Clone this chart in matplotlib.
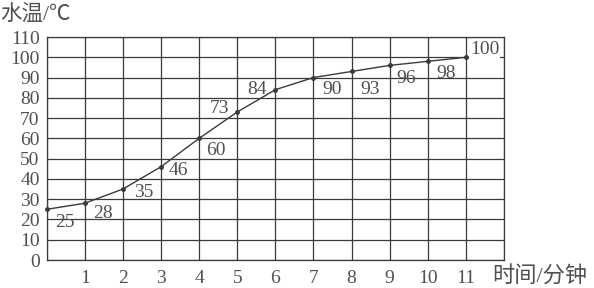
import matplotlib
matplotlib.use("Agg")
import matplotlib.pyplot as plt

# time (minutes) and water temperature
minutes = [0, 1, 2, 3, 4, 5, 6, 7, 8, 9, 10, 11]
temps = [25, 28, 35, 46, 60, 73, 84, 90, 93, 96, 98, 100]
x_ticks = list(range(1, 12))
y_ticks = list(range(0, 111, 10))

# where each value label goes relative to its point (dx, dy in pixels)
label_offsets = [(8, -13), (8, -10), (11, -3), (8, -4), (7, -12), (-8, 4),
                 (-9, 0), (9, -12), (9, -18), (7, -13), (9, -12), (4, 8)]
label_align = ['left', 'left', 'left', 'left', 'left', 'right',
               'right', 'left', 'left', 'left', 'left', 'left']

serif = ['Liberation Serif', 'Noto Sans CJK SC']
ink = '#3a3a3a'
txt = '#505050'

fig = plt.figure(figsize=(5.94, 2.88), dpi=100)
ax = fig.add_axes([0.0786, 0.0972, 0.7699, 0.7743])

ax.set_xlim(0, 12)
ax.set_ylim(0, 110)
ax.set_xticks(range(0, 13))
ax.set_yticks(y_ticks)
ax.grid(True, color=ink, linewidth=0.9)
for s in ax.spines.values():
    s.set_color(ink)
    s.set_linewidth(0.9)

ax.set_xticklabels([str(t) if t in x_ticks else '' for t in range(0, 13)])
ax.tick_params(length=0, labelsize=14, colors=txt)
ax.tick_params(axis='x', pad=7)
ax.tick_params(axis='y', pad=5)
for lab in ax.get_xticklabels() + ax.get_yticklabels():
    lab.set_family(serif)

ax.plot(minutes, temps, color=ink, linewidth=1.0, marker='o', markersize=2.5,
        clip_on=False, zorder=3)

for i, (m, t) in enumerate(zip(minutes, temps)):
    dx, dy = label_offsets[i]
    bbox = None
    if i == len(minutes) - 1:
        bbox = dict(facecolor='white', edgecolor='none', pad=0.5)
    ax.annotate(str(t), (m, t), xytext=(dx, dy), textcoords='offset pixels',
                ha=label_align[i], va='center', fontsize=14, color=txt,
                family=serif, bbox=bbox, zorder=4)

fig.text(0.0, 0.945, '水温/℃', fontsize=15.5, color=txt, family=serif,
         ha='left', va='center')
fig.text(0.828, 0.038, '时间/分钟', fontsize=16, color=txt, family=serif,
         ha='left', va='center')

fig.savefig('out.png', dpi=100)
